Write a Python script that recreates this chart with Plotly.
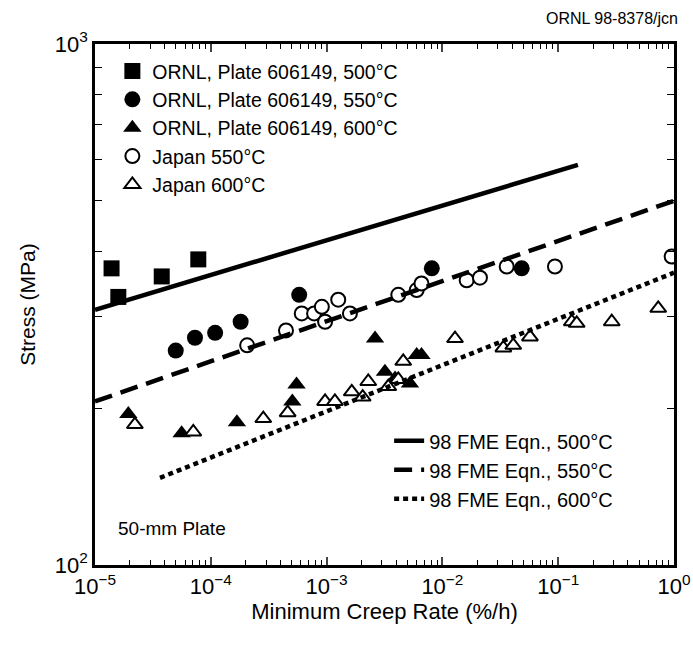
import plotly.graph_objects as go

# ---------------- data ----------------
ornl500_rate = [1.39e-5, 1.59e-5, 3.77e-5, 7.8e-5]
ornl500_stress = [371, 327, 358, 386]

ornl550_rate = [4.98e-5, 7.3e-5, 1.09e-4, 1.81e-4, 5.8e-4, 8.1e-3, 4.84e-2]
ornl550_stress = [258, 273, 279, 293, 330, 371, 371]

ornl600_rate = [1.94e-5, 5.6e-5, 1.68e-4, 5.06e-4, 5.5e-4, 2.62e-3, 3.19e-3, 3.9e-3, 5.25e-3, 6.0e-3, 6.6e-3]
ornl600_stress = [195, 179, 188, 206, 222, 272, 235, 228, 223, 253, 253]

japan550_rate = [2.06e-4, 4.46e-4, 6.1e-4, 7.8e-4, 9.1e-4, 9.7e-4, 1.26e-3, 1.59e-3,
                 4.16e-3, 6.0e-3, 6.6e-3, 1.62e-2, 2.11e-2, 3.59e-2, 9.37e-2, 0.955]
japan550_stress = [264, 282, 304, 304, 313, 293, 323, 304,
                   330, 337, 347, 352, 356, 374, 374, 391]

japan600_rate = [2.21e-5, 7.06e-5, 2.84e-4, 4.61e-4, 9.7e-4, 1.18e-3, 1.65e-3, 2.05e-3,
                 2.29e-3, 3.41e-3, 4.16e-3, 4.59e-3, 1.285e-2, 3.36e-2, 4.09e-2, 5.7e-2,
                 0.131, 0.1445, 0.29, 0.731]
japan600_stress = [186, 180, 191, 196, 206, 206, 215, 210,
                   225, 220, 227, 246, 272, 261, 264, 274,
                   293, 291, 293, 311]

fme500_rate = [1e-5, 0.148]
fme500_stress = [309, 586]
fme550_rate = [1e-5, 1.0]
fme550_stress = [206, 500]
fme600_rate = [3.64e-5, 1.0]
fme600_stress = [147, 364]

x_tickvals = [1e-5, 1e-4, 1e-3, 1e-2, 1e-1, 1]
x_ticktext = ["10<sup>−5</sup>", "10<sup>−4</sup>", "10<sup>−3</sup>",
              "10<sup>−2</sup>", "10<sup>−1</sup>", "10<sup>0</sup>"]
y_tickvals = [100, 1000]
y_ticktext = ["10<sup>2</sup>", "10<sup>3</sup>"]

FONT = "Liberation Sans, Arial, Helvetica, sans-serif"

fig = go.Figure()

def pts(x, y, name, symbol, filled, size):
    fig.add_trace(go.Scatter(
        x=x, y=y, mode="markers", name=name, legend="legend",
        marker=dict(symbol=symbol, size=size,
                    color="black" if filled else "white",
                    line=dict(color="black", width=0 if filled else 2)),
    ))

pts(ornl500_rate, ornl500_stress, "ORNL, Plate 606149, 500°C", "square", True, 16)
pts(ornl550_rate, ornl550_stress, "ORNL, Plate 606149, 550°C", "circle", True, 16)
pts(ornl600_rate, ornl600_stress, "ORNL, Plate 606149, 600°C", "triangle-up", True, 16)
pts(japan550_rate, japan550_stress, "Japan 550°C", "circle", False, 14)
pts(japan600_rate, japan600_stress, "Japan 600°C", "triangle-up", False, 14)

def line(x, y, name, dash):
    fig.add_trace(go.Scatter(
        x=x, y=y, mode="lines", name=name, legend="legend2",
        line=dict(color="black", width=4.5, dash=dash),
    ))

line(fme500_rate, fme500_stress, "98 FME Eqn., 500°C", "solid")
line(fme550_rate, fme550_stress, "98 FME Eqn., 550°C", "18px,9px")
line(fme600_rate, fme600_stress, "98 FME Eqn., 600°C", "5px,4px")

minor_x = [m * 10 ** e for e in range(-5, 0) for m in range(2, 10)]
minor_y = [m * 100 for m in range(2, 10)]

fig.update_xaxes(
    type="log", range=[-5, 0], tickvals=x_tickvals, ticktext=x_ticktext,
    automargin=False,
    ticks="inside", ticklen=8, tickwidth=1.5,
    mirror="ticks", showline=True, linecolor="black", linewidth=2.5,
    showgrid=False, zeroline=False,
    minor=dict(tickvals=minor_x, ticks="inside", ticklen=5, tickwidth=1.2, tickcolor="black", showgrid=False),
    tickfont=dict(size=22, family=FONT, color="black"),
    title=dict(text="Minimum Creep Rate (%/h)", font=dict(size=22, family=FONT, color="black"), standoff=0),
)
fig.update_yaxes(
    type="log", range=[2, 3], tickvals=y_tickvals, ticktext=y_ticktext,
    automargin=False,
    ticks="inside", ticklen=8, tickwidth=1.5,
    mirror="ticks", showline=True, linecolor="black", linewidth=2.5,
    showgrid=False, zeroline=False,
    minor=dict(tickvals=minor_y, ticks="inside", ticklen=7, tickwidth=1.2, tickcolor="black", showgrid=False),
    tickfont=dict(size=22, family=FONT, color="black"),
    title=dict(text="Stress (MPa)", font=dict(size=21, family=FONT, color="black"), standoff=14),
)

fig.update_layout(
    width=693, height=646,
    margin=dict(l=95, r=19, t=44, b=81),
    paper_bgcolor="white", plot_bgcolor="white",
    font=dict(family=FONT, color="black"),
    showlegend=True,
    legend=dict(x=0.03, y=0.985, xanchor="left", yanchor="top",
                bgcolor="rgba(0,0,0,0)", font=dict(size=19.5, family=FONT, color="black"),
                itemwidth=30, tracegroupgap=0),
    legend2=dict(x=0.508, y=0.276, xanchor="left", yanchor="top",
                 bgcolor="rgba(0,0,0,0)", font=dict(size=20, family=FONT, color="black"),
                 itemwidth=30),
    annotations=[
        dict(text="ORNL 98-8378/jcn", xref="paper", yref="paper", x=1.01, y=1.0,
             yshift=26, xanchor="right", yanchor="middle", showarrow=False,
             font=dict(size=16, family=FONT, color="black")),
        dict(text="50-mm Plate", xref="paper", yref="paper", x=0.036, y=0.071,
             xanchor="left", yanchor="middle", showarrow=False,
             font=dict(size=19, family=FONT, color="black")),
    ],
)

fig.write_html(
    "out.html",
    config={"displayModeBar": False},
    post_script="document.body.style.margin='0';document.body.style.overflow='hidden';",
)
